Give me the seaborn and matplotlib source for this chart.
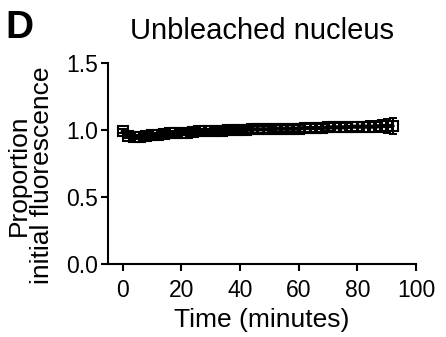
import matplotlib
matplotlib.use("Agg")
import matplotlib.pyplot as plt
import seaborn as sns
import pandas as pd

time_min = [0, 2, 4, 6, 8, 10, 12, 14, 16, 18, 20, 22, 24, 26, 28, 30,
            32, 34, 36, 38, 40, 42, 44, 46, 48, 50, 52, 54, 56, 58, 60,
            62, 64, 66, 68, 70, 72, 74, 76, 78, 80, 82, 84, 86, 88, 90, 92]
proportion = [0.99, 0.955, 0.945, 0.95, 0.955, 0.96, 0.965, 0.97, 0.975, 0.975,
              0.98, 0.98, 0.985, 0.99, 0.99, 0.99, 0.995, 0.995, 1.0, 1.0,
              1.0, 1.0, 1.005, 1.005, 1.005, 1.005, 1.01, 1.01, 1.01, 1.01,
              1.01, 1.015, 1.015, 1.015, 1.015, 1.02, 1.02, 1.02, 1.02, 1.025,
              1.025, 1.025, 1.025, 1.025, 1.03, 1.03, 1.03]
sem = [0.015, 0.015, 0.015, 0.015, 0.015, 0.016, 0.016, 0.017, 0.017, 0.018,
       0.018, 0.019, 0.019, 0.02, 0.02, 0.021, 0.021, 0.022, 0.022, 0.023,
       0.023, 0.024, 0.024, 0.025, 0.025, 0.026, 0.026, 0.027, 0.027, 0.028,
       0.028, 0.029, 0.029, 0.03, 0.03, 0.031, 0.032, 0.033, 0.034, 0.035,
       0.036, 0.038, 0.04, 0.042, 0.045, 0.05, 0.06]

df = pd.DataFrame({"Time": time_min, "Proportion": proportion, "SEM": sem})

sns.set_style("ticks")
plt.rcParams["font.family"] = ["Liberation Sans", "DejaVu Sans"]
plt.rcParams["text.color"] = "black"
plt.rcParams["axes.labelcolor"] = "black"

fig = plt.figure(figsize=(4.46, 3.37), dpi=100)
ax = fig.add_axes([0.242, 0.2166, 0.691, 0.5964])

ax.errorbar(df["Time"], df["Proportion"], yerr=df["SEM"], fmt="none",
            ecolor="black", elinewidth=1.4, capsize=3, capthick=1.4, zorder=2)
sns.lineplot(data=df, x="Time", y="Proportion", ax=ax, color="black",
             linewidth=3, marker="s", markersize=7.5, markerfacecolor="none",
             markeredgecolor="black", markeredgewidth=1.5, zorder=3)

ax.set_xlim(-5, 100)
ax.set_ylim(0, 1.5)
ax.set_xticks([0, 20, 40, 60, 80, 100])
ax.set_yticks([0.0, 0.5, 1.0, 1.5])
ax.set_yticklabels(["0.0", "0.5", "1.0", "1.5"])
sns.despine(ax=ax)
for side in ["left", "bottom"]:
    ax.spines[side].set_linewidth(1.5)
    ax.spines[side].set_color("black")
ax.tick_params(axis="both", direction="out", length=5, width=1.5,
               labelsize=16.5, colors="black")
ax.tick_params(axis="x", pad=6)
ax.tick_params(axis="y", pad=2)

ax.set_xlabel("Time (minutes)", fontsize=19, labelpad=4)
ax.set_ylabel("Proportion\ninitial fluorescence", fontsize=19,
              linespacing=0.95)
ax.yaxis.set_label_coords(-0.175, 0.443)
ax.set_title("Unbleached nucleus", fontsize=21, pad=17)
fig.text(0.012, 0.887, "D", fontsize=28, fontweight="bold")

fig.savefig("out.png", dpi=100)
